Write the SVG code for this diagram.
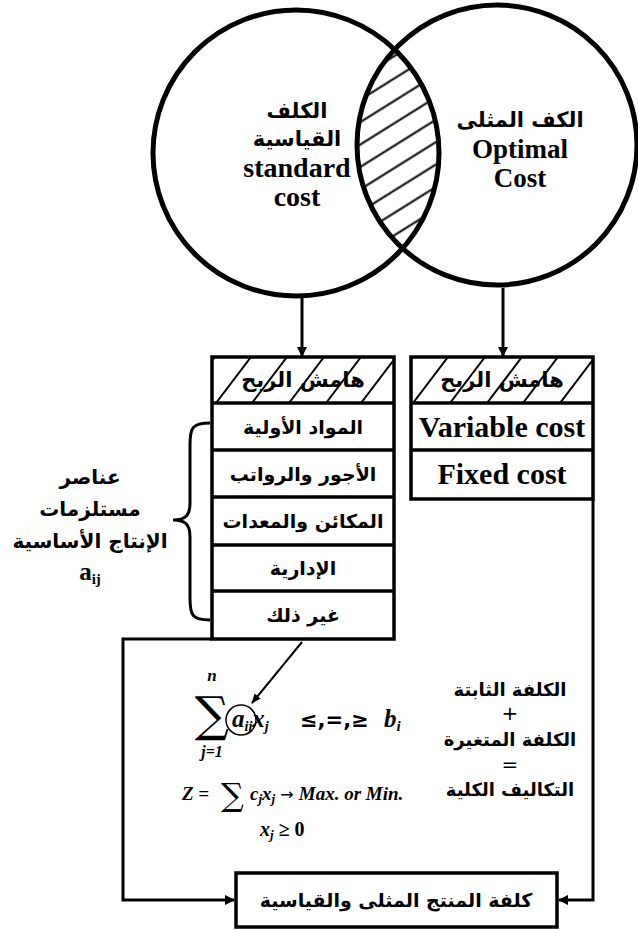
<svg xmlns="http://www.w3.org/2000/svg" width="638" height="930" viewBox="0 0 638 930">
<style>
.ar{font-family:"DejaVu Sans",sans-serif;font-weight:bold;fill:#000;text-anchor:middle}
.en{font-family:"Liberation Serif","Times New Roman",serif;font-weight:bold;fill:#000;text-anchor:middle}
.mt{font-family:"Liberation Serif","DejaVu Serif",serif;font-weight:bold;font-style:italic;fill:#000}
.box{fill:#fff;stroke:#000;stroke-width:3.5}
.hatch{stroke:#000;stroke-width:2}
.conn{fill:none;stroke:#000;stroke-width:3}
</style>
<defs>
<marker id="ah" markerWidth="10" markerHeight="10" refX="9" refY="5" orient="auto" markerUnits="userSpaceOnUse" viewBox="0 0 10 10">
<path d="M0,0 L10,5 L0,10 z" fill="#000"/>
</marker>
<marker id="ahs" markerWidth="10" markerHeight="10" refX="9" refY="5" orient="auto" markerUnits="userSpaceOnUse" viewBox="0 0 10 10">
<path d="M0,1 L10,5 L0,9 z" fill="#000"/>
</marker>
<pattern id="lensHatch" width="19" height="19" patternUnits="userSpaceOnUse" patternTransform="rotate(-32)">
<line x1="0" y1="9.5" x2="19" y2="9.5" stroke="#000" stroke-width="2"/>
</pattern>
<clipPath id="leftC"><circle cx="296" cy="153" r="143"/></clipPath>
<clipPath id="hdrL"><rect x="212" y="357" width="182" height="46"/></clipPath>
<clipPath id="hdrR"><rect x="411" y="357" width="182" height="46"/></clipPath>
</defs>

<g id="venn">
<circle cx="497" cy="145" r="140" fill="url(#lensHatch)" clip-path="url(#leftC)"/>
<circle id="standard-circle" cx="296" cy="153" r="143" fill="none" stroke="#000" stroke-width="5"/>
<circle id="optimal-circle" cx="497" cy="145" r="140" fill="none" stroke="#000" stroke-width="5"/>
</g>
<g id="standard-label">
<text class="ar" x="297" y="118" font-size="21">الكلف</text>
<text class="ar" x="297" y="146" font-size="21">القياسية</text>
<text class="en" x="297" y="177" font-size="28">standard</text>
<text class="en" x="297" y="206" font-size="28">cost</text>
</g>
<g id="optimal-label">
<text class="ar" x="520" y="127" font-size="21">الكف المثلى</text>
<text class="en" x="520" y="158" font-size="27">Optimal</text>
<text class="en" x="520" y="187" font-size="27">Cost</text>
</g>

<g id="left-table">
<rect class="box" x="212" y="357" width="182" height="282"/>
<g clip-path="url(#hdrL)" class="hatch">
<line x1="180" y1="403" x2="215" y2="357"/>
<line x1="216" y1="403" x2="251" y2="357"/>
<line x1="252" y1="403" x2="287" y2="357"/>
<line x1="289" y1="403" x2="324" y2="357"/>
<line x1="326" y1="403" x2="361" y2="357"/>
<line x1="361" y1="403" x2="396" y2="357"/>
</g>
<g stroke="#000" stroke-width="3.5">
<line x1="212" y1="403" x2="394" y2="403"/>
<line x1="212" y1="450" x2="394" y2="450"/>
<line x1="212" y1="497" x2="394" y2="497"/>
<line x1="212" y1="545" x2="394" y2="545"/>
<line x1="212" y1="591" x2="394" y2="591"/>
</g>
<text class="ar" x="303" y="387" font-size="21">هامش الربح</text>
<text class="ar" x="303" y="434" font-size="19">المواد الأولية</text>
<text class="ar" x="303" y="481" font-size="19">الأجور والرواتب</text>
<text class="ar" x="303" y="528" font-size="19">المكائن والمعدات</text>
<text class="ar" x="303" y="575" font-size="19">الإدارية</text>
<text class="ar" x="303" y="622" font-size="19">غير ذلك</text>
</g>

<g id="right-table">
<rect class="box" x="411" y="357" width="182" height="142"/>
<g clip-path="url(#hdrR)" class="hatch">
<line x1="378" y1="403" x2="413" y2="357"/>
<line x1="413" y1="403" x2="448" y2="357"/>
<line x1="450" y1="403" x2="485" y2="357"/>
<line x1="487" y1="403" x2="522" y2="357"/>
<line x1="523" y1="403" x2="558" y2="357"/>
<line x1="560" y1="403" x2="595" y2="357"/>
</g>
<g stroke="#000" stroke-width="3.5">
<line x1="411" y1="403" x2="593" y2="403"/>
<line x1="411" y1="450" x2="593" y2="450"/>
</g>
<text class="ar" x="502" y="387" font-size="21">هامش الربح</text>
<text class="en" x="502" y="437" font-size="30">Variable cost</text>
<text class="en" x="502" y="484" font-size="30">Fixed cost</text>
</g>

<g id="inputs-label">
<path d="M210,423 C192,423 190,428 190,445 L190,503 C190,515 186,520 173,520 C186,520 190,525 190,537 L190,598 C190,615 192,620 210,620" fill="none" stroke="#000" stroke-width="3"/>
<text class="ar" x="90" y="484" font-size="20">عناصر</text>
<text class="ar" x="90" y="516" font-size="20">مستلزمات</text>
<text class="ar" x="90" y="548" font-size="20">الإنتاج الأساسية</text>
<text class="en" x="90" y="580" font-size="25">a<tspan font-size="15" dy="4">ij</tspan></text>
</g>

<g id="formula">
<text x="212" y="731" font-family="DejaVu Serif,serif" font-size="48" text-anchor="middle">∑</text>
<text class="mt" x="212" y="681" font-size="17" text-anchor="middle">n</text>
<text class="mt" x="212" y="757" font-size="16" text-anchor="middle">j=1</text>
<circle cx="241" cy="720" r="15" fill="none" stroke="#000" stroke-width="1.5"/>
<text class="mt" x="232" y="727" font-size="25">a<tspan font-size="14" dy="4">ij</tspan><tspan font-size="25" dy="-4">x</tspan><tspan font-size="14" dy="4">j</tspan></text>
<text x="300" y="727" font-family="DejaVu Sans,sans-serif" font-size="21" font-weight="bold">≤,=,≥</text>
<text class="mt" x="384" y="727" font-size="25">b<tspan font-size="15" dy="4">i</tspan></text>
<text class="mt" x="182" y="800" font-size="19">Z =</text>
<text x="221" y="806" font-family="DejaVu Serif,serif" font-size="32">∑</text>
<text class="mt" x="250" y="800" font-size="19">c<tspan font-size="13" dy="3">j</tspan><tspan dy="-3">x</tspan><tspan font-size="13" dy="3">j</tspan><tspan dy="-3" font-style="normal" font-family="DejaVu Sans,sans-serif" font-weight="normal" font-size="16"> → </tspan>Max. or Min.</text>
<text class="mt" x="260" y="836" font-size="20">x<tspan font-size="13" dy="3">j</tspan><tspan dy="-3" font-style="normal"> ≥ 0</tspan></text>
</g>

<g id="total-cost">
<text class="ar" x="510" y="696" font-size="18">الكلفة الثابتة</text>
<text x="510" y="720" font-family="DejaVu Sans,sans-serif" font-size="20" text-anchor="middle">+</text>
<text class="ar" x="510" y="746" font-size="18">الكلفة المتغيرة</text>
<text x="510" y="771" font-family="DejaVu Sans,sans-serif" font-size="20" text-anchor="middle">=</text>
<text class="ar" x="510" y="796" font-size="18">التكاليف الكلية</text>
</g>

<g id="product-cost">
<rect class="box" x="236" y="873" width="321" height="54" stroke-width="3"/>
<text class="ar" x="396" y="907" font-size="19">كلفة المنتج المثلى والقياسية</text>
</g>

<g id="connectors">
<line class="conn" x1="302" y1="297" x2="302" y2="356" marker-end="url(#ah)"/>
<line class="conn" x1="503" y1="288" x2="503" y2="356" marker-end="url(#ah)"/>
<polyline class="conn" points="212,639 123,639 123,900 234,900" marker-end="url(#ah)"/>
<polyline class="conn" points="593,499 593,900 559,900" marker-end="url(#ah)"/>
<line x1="302" y1="642" x2="252" y2="703" stroke="#000" stroke-width="2" marker-end="url(#ahs)"/>
</g>
</svg>
